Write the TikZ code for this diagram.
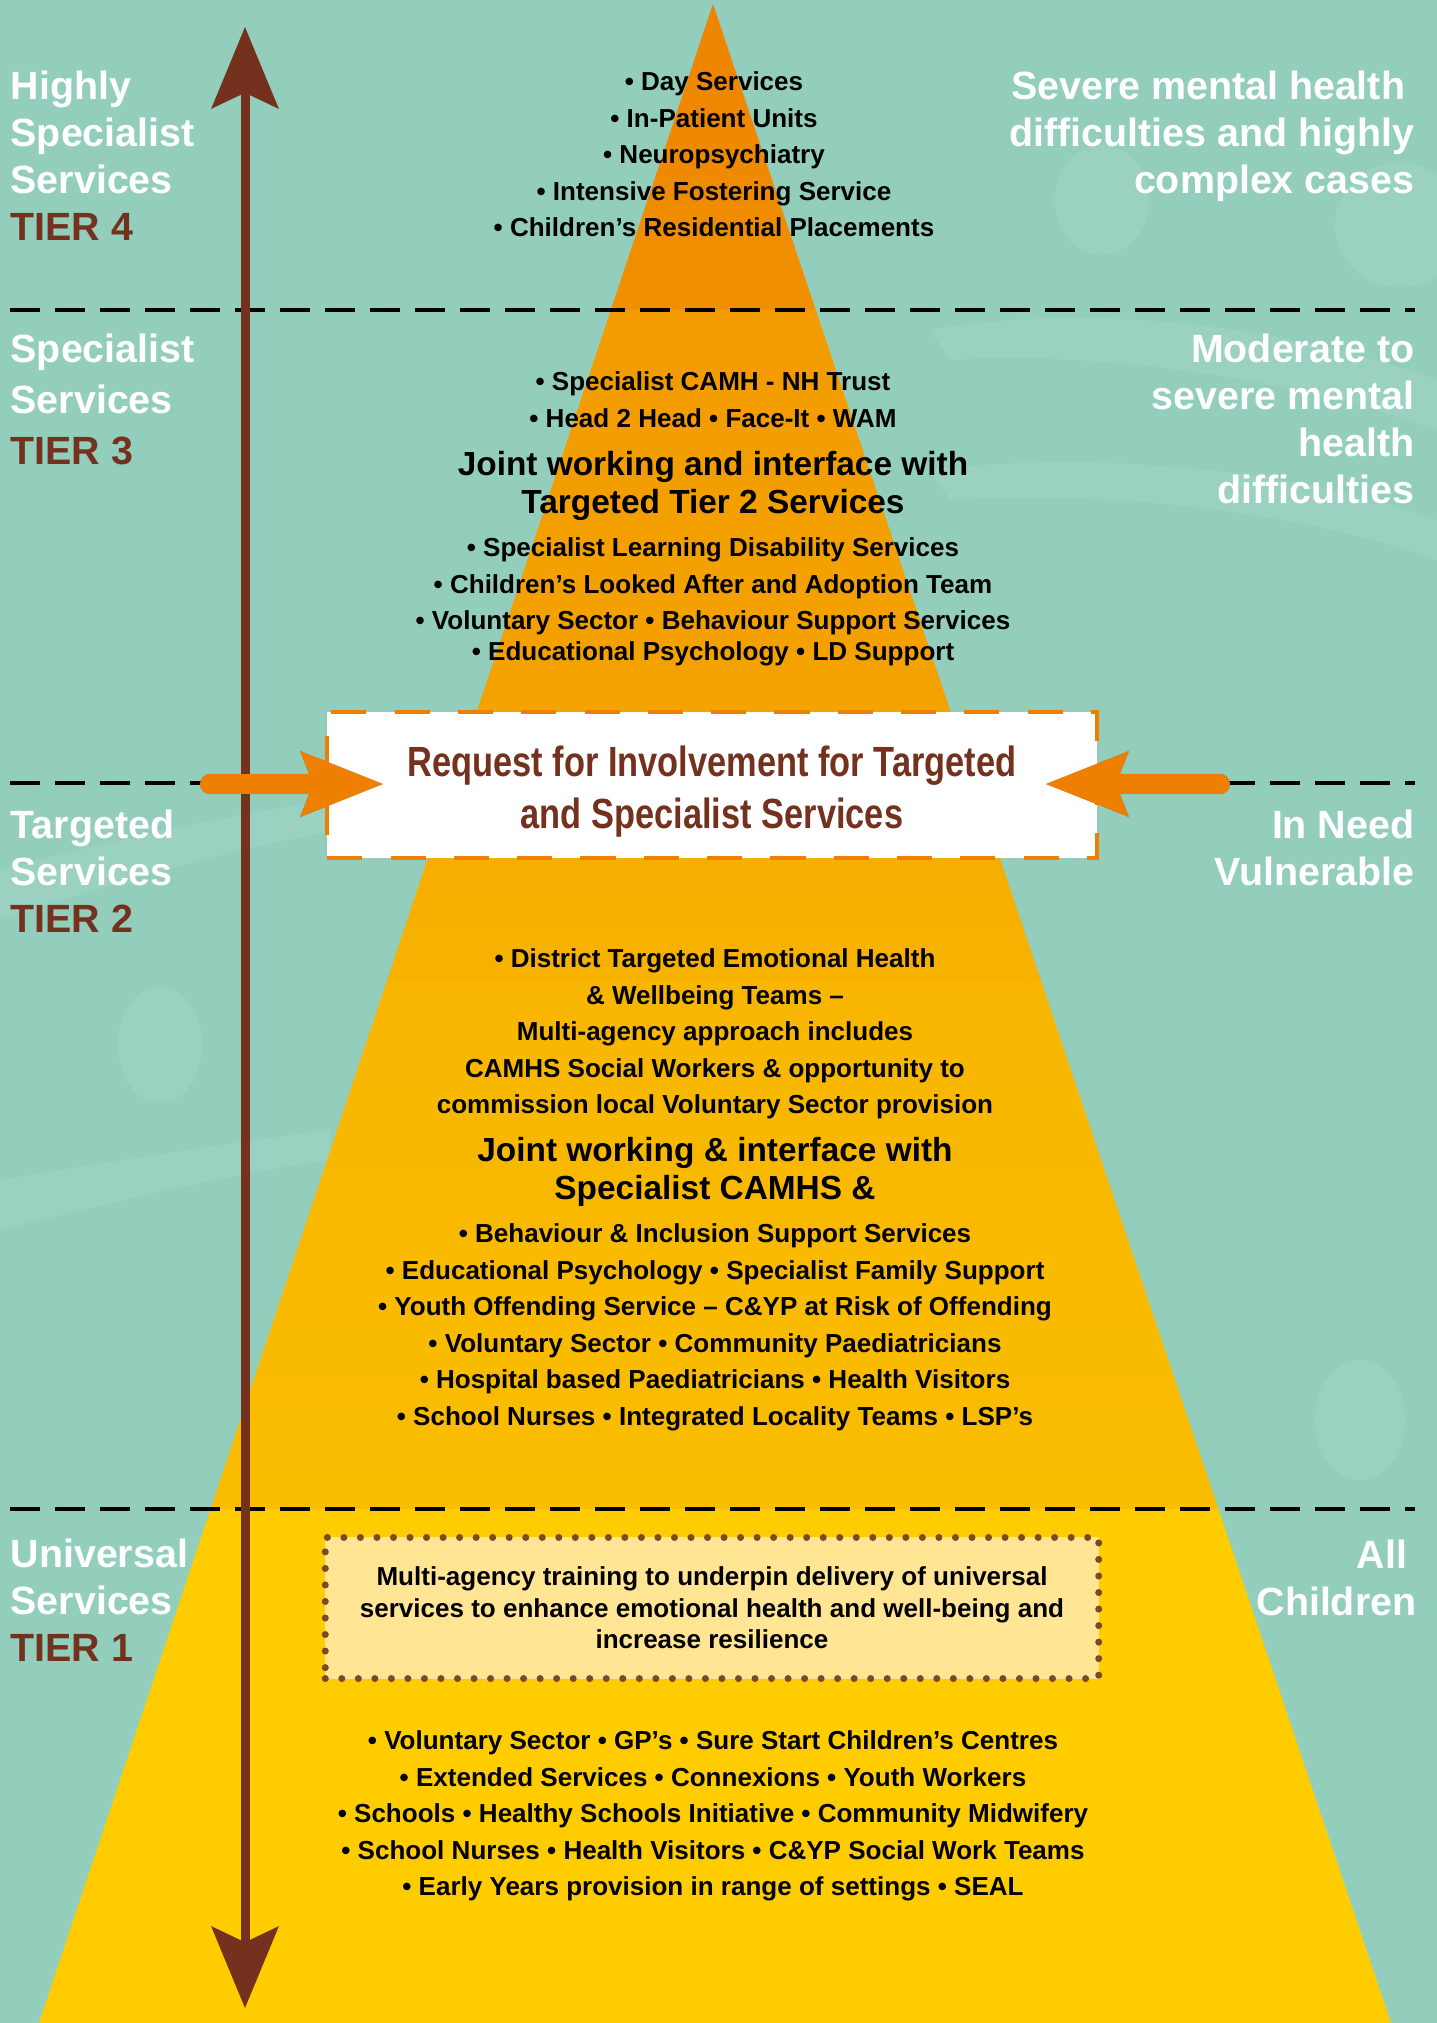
\documentclass[tikz,border=0pt]{standalone}
\usepackage{fontspec}
\setmainfont{Liberation Sans}
\newfontfamily\narrowfont{Liberation Sans}[FakeStretch=0.815]
\usetikzlibrary{arrows.meta}
\definecolor{sea}{HTML}{93CEBD}
\definecolor{rust}{HTML}{74321E}
\definecolor{flame}{HTML}{EE7F00}
\definecolor{sand}{HTML}{FFE594}
\definecolor{cocoa}{HTML}{7A4A24}
\definecolor{fourtop}{HTML}{EE8300}
\definecolor{fourbot}{HTML}{F09000}
\definecolor{threetop}{HTML}{F39B00}
\definecolor{threebot}{HTML}{F4A400}
\definecolor{twotop}{HTML}{F6AD00}
\definecolor{twomid}{HTML}{F7B200}
\definecolor{twolow}{HTML}{F8B600}
\definecolor{twobot}{HTML}{FABD00}
\definecolor{onefill}{HTML}{FFCC00}
\tikzstyle{swirl}=[fill=white, fill opacity=0.07]
\tikzstyle{side label}=[inner sep=0pt, text=white, font=\bfseries\fontsize{11.2}{13.4}\selectfont]
\tikzstyle{left label}=[side label, align=left, anchor=north west]
\tikzstyle{right label}=[side label, align=right, anchor=north east]
\tikzstyle{list text}=[inner sep=0pt, align=center, anchor=north, font=\bfseries\fontsize{7.4}{10.4}\selectfont]
\tikzstyle{joint text}=[inner sep=0pt, align=center, anchor=north, font=\bfseries\fontsize{9.5}{10.6}\selectfont]
\tikzstyle{request box}=[draw=flame, fill=white, line width=1.1pt, dash pattern=on 10pt off 8pt, minimum width=7.69cm, minimum height=1.46cm, inner sep=0pt, align=center, text=rust, font=\narrowfont\bfseries\fontsize{12}{14.8}\selectfont]
\tikzstyle{training box}=[draw=cocoa, fill=sand, line width=2pt, line cap=round, dash pattern=on 0pt off 4.7pt, minimum width=7.73cm, minimum height=1.41cm, inner sep=0pt, align=center, font=\bfseries\fontsize{7.4}{9}\selectfont]
\tikzstyle{tier edge}=[-, draw=black, line width=1.4pt, dash pattern=on 8.5pt off 4.3pt]
\tikzstyle{scale edge}=[{Stealth[length=23.3pt, width=19.3pt, inset=4.6pt, line width=0pt]}-{Stealth[length=23.3pt, width=19.3pt, inset=4.6pt, line width=0pt]}, draw=rust, line width=2.56pt]
\tikzstyle{request edge}=[-{Stealth[length=23.6pt, width=18.8pt, inset=3.7pt, line width=0pt]}, draw=flame, line width=5.7pt, line cap=round]
\pgfdeclarelayer{bglayer}
\pgfdeclarelayer{edgelayer}
\pgfdeclarelayer{nodelayer}
\pgfsetlayers{bglayer,edgelayer,nodelayer,main}

\begin{document}
\begin{tikzpicture}[x=0.01cm, y=-0.01cm]
	\useasboundingbox (0,0) rectangle (1437,2023);
	\begin{pgfonlayer}{bglayer}
		\fill[sea] (0,0) rectangle (1437,2023);
		% faint swirls behind everything
		\fill[style=swirl] (1102,200) ellipse [x radius=0.47cm, y radius=0.55cm];
		\fill[style=swirl] (1400,225) ellipse [x radius=0.65cm, y radius=0.62cm];
		\fill[style=swirl] (160,1045) ellipse [x radius=0.42cm, y radius=0.58cm];
		\fill[style=swirl] (1360,1420) ellipse [x radius=0.45cm, y radius=0.6cm];
		\fill[style=swirl] (930,330) .. controls (1100,300) and (1300,330) .. (1437,380) -- (1437,430) .. controls (1300,380) and (1100,350) .. (950,360) -- cycle;
		\fill[style=swirl] (930,470) .. controls (1100,450) and (1300,470) .. (1437,520) -- (1437,560) .. controls (1300,510) and (1100,490) .. (950,500) -- cycle;
		\fill[style=swirl] (0,870) .. controls (150,830) and (300,800) .. (420,790) -- (420,820) .. controls (300,830) and (150,870) .. (0,920) -- cycle;
		\fill[style=swirl] (0,1180) .. controls (120,1160) and (250,1140) .. (330,1130) -- (330,1160) .. controls (250,1170) and (120,1200) .. (0,1230) -- cycle;
		% the pyramid, one band per tier
		\begin{scope}
			\clip (713,4) -- (1391,2023) -- (39,2023) -- cycle;
			\shade[top color=fourtop, bottom color=fourbot] (0,0) rectangle (1437,310);
			\shade[top color=threetop, bottom color=threebot] (0,310) rectangle (1437,783);
			\shade[top color=twotop, bottom color=twomid] (0,783) rectangle (1437,982);
			\shade[top color=twolow, bottom color=twobot] (0,982) rectangle (1437,1509);
			\fill[onefill] (0,1509) rectangle (1437,2023);
		\end{scope}
	\end{pgfonlayer}
	\begin{pgfonlayer}{edgelayer}
		\draw [style=tier edge] (10,310) -- (1415,310);
		\draw [style=tier edge] (10,783) -- (1415,783);
		\draw [style=tier edge] (10,1509) -- (1415,1509);
		\coordinate (20) at (245,27);
		\coordinate (21) at (245,2008);
		\draw [style=scale edge] (21) -- (20);
	\end{pgfonlayer}
	\begin{pgfonlayer}{nodelayer}
		\node [style=left label] (0) at (10,70) {Highly\\Specialist\\Services\\\textcolor{rust}{TIER 4}};
		\node [style=left label, font=\bfseries\fontsize{11.2}{14.6}\selectfont] (1) at (10,333) {Specialist\\Services\\\textcolor{rust}{TIER 3}};
		\node [style=left label] (2) at (10,809) {Targeted\\Services\\\textcolor{rust}{TIER 2}};
		\node [style=left label] (3) at (10,1538) {Universal\\Services\\\textcolor{rust}{TIER 1}};
		\node [style=right label] (4) at (1415,70) {Severe mental health\kern2.6pt\\difficulties and highly\\complex cases};
		\node [style=right label] (5) at (1415,333) {Moderate to\\severe mental\\health\\difficulties};
		\node [style=right label] (6) at (1415,809) {In Need\\Vulnerable};
		\node [style=right label] (7) at (1417,1539) {All\kern2.6pt\\Children};
		\node [style=list text] (8) at (714,71) {• Day Services\\• In-Patient Units\\• Neuropsychiatry\\• Intensive Fostering Service\\• Children’s Residential Placements};
		\node [style=list text] (9) at (713,371) {• Specialist CAMH - NH Trust\\• Head 2 Head • Face-It • WAM};
		\node [style=joint text] (10) at (713,451) {Joint working and interface with\\Targeted Tier 2 Services};
		\node [style=list text] (11) at (713,537) {• Specialist Learning Disability Services\\• Children’s Looked After and Adoption Team\\• Voluntary Sector • Behaviour Support Services\\[-1.7pt]• Educational Psychology • LD Support};
		\node [style=request box] (12) at (712,785) {\rule{0pt}{12.5pt}Request for Involvement for Targeted\\and Specialist Services};
		\node [style=list text] (13) at (715,948) {• District Targeted Emotional Health\\\& Wellbeing Teams –\\Multi-agency approach includes\\CAMHS Social Workers \& opportunity to\\commission local Voluntary Sector provision};
		\node [style=joint text] (14) at (715,1137) {Joint working \& interface with\\Specialist CAMHS \&};
		\node [style=list text] (15) at (715,1223) {• Behaviour \& Inclusion Support Services\\• Educational Psychology • Specialist Family Support\\• Youth Offending Service – C\&YP at Risk of Offending\\• Voluntary Sector • Community Paediatricians\\• Hospital based Paediatricians • Health Visitors\\• School Nurses • Integrated Locality Teams • LSP’s};
		\node [style=training box] (16) at (712,1608) {Multi-agency training to underpin delivery of universal\\services to enhance emotional health and well-being and\\increase resilience};
		\node [style=list text] (17) at (713,1730) {• Voluntary Sector • GP’s • Sure Start Children’s Centres\\• Extended Services • Connexions • Youth Workers\\• Schools • Healthy Schools Initiative • Community Midwifery\\• School Nurses • Health Visitors • C\&YP Social Work Teams\\• Early Years provision in range of settings • SEAL};
	\end{pgfonlayer}
	% arrows into the request box, with their shadow
	\coordinate (22) at (210,784);
	\coordinate (23) at (383,784);
	\coordinate (24) at (1220,784);
	\coordinate (25) at (1046,784);
	\begin{scope}[transparency group, opacity=0.35, shift={(4,6)}]
		\draw [style=request edge, draw=black] (22) -- (23);
		\draw [style=request edge, draw=black] (24) -- (25);
	\end{scope}
	\draw [style=request edge] (22) -- (23);
	\draw [style=request edge] (24) -- (25);
\end{tikzpicture}
\end{document}
